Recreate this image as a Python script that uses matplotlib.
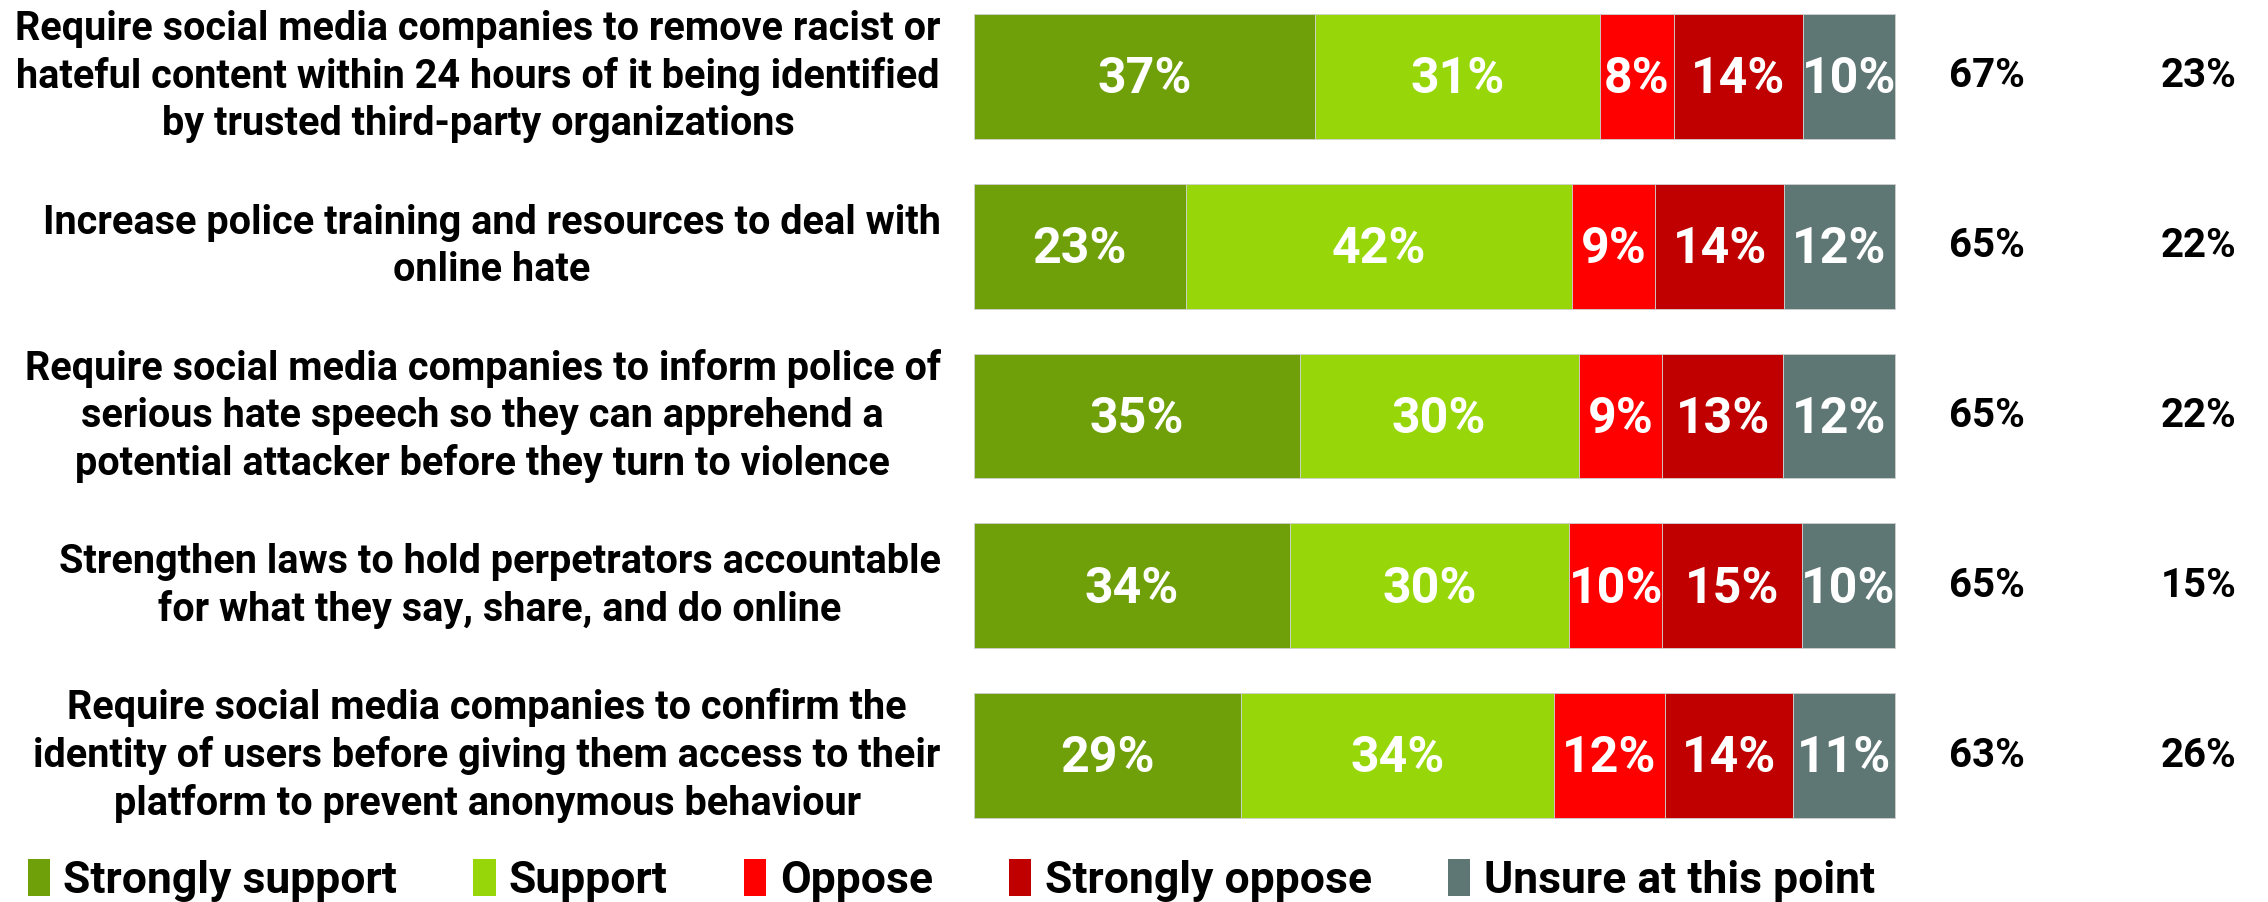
import numpy as np
import matplotlib
matplotlib.use("Agg")
from matplotlib import pyplot as plt
from matplotlib.patches import Patch

questions = [
    "Require social media companies to remove racist or\nhateful content within 24 hours of it being identified\nby trusted third-party organizations",
    "Increase police training and resources to deal with\nonline hate",
    "Require social media companies to inform police of\nserious hate speech so they can apprehend a\npotential attacker before they turn to violence",
    "Strengthen laws to hold perpetrators accountable\nfor what they say, share, and do online",
    "Require social media companies to confirm the\nidentity of users before giving them access to their\nplatform to prevent anonymous behaviour",
]
strongly_support = [37, 23, 35, 34, 29]
support = [31, 42, 30, 30, 34]
oppose = [8, 9, 9, 10, 12]
strongly_oppose = [14, 14, 13, 15, 14]
unsure = [10, 12, 12, 10, 11]
total_support = [67, 65, 65, 65, 63]
total_oppose = [23, 22, 22, 15, 26]

series_names = ["Strongly support", "Support", "Oppose", "Strongly oppose", "Unsure at this point"]
colors = ["#6fa00a", "#97d70a", "#ff0000", "#c00000", "#5f7774"]

font = ["Roboto", "DejaVu Sans"]

W, H = 2268, 902
fig = plt.figure(figsize=(W / 100, H / 100), dpi=100)
ax = fig.add_axes([974 / W, (H - 832) / H, 1289 / W, 832 / H])

data = np.array([strongly_support, support, oppose, strongly_oppose, unsure], dtype=float)
shares = data / data.sum(axis=0) * 100  # 100% stacked
y = np.arange(len(questions))
left = np.zeros(len(questions))
for k in range(len(series_names)):
    ax.barh(y, shares[k], left=left, height=0.735, color=colors[k],
            edgecolor="#d0d0d0", linewidth=0.6)
    for i in range(len(questions)):
        ax.text(left[i] + shares[k][i] / 2, y[i] + 0.02, f"{int(data[k][i])}%",
                ha="center", va="center", color="white", fontsize=36,
                fontweight="bold", family=font)
    left += shares[k]

for i in range(len(questions)):
    ax.text(-3.6, y[i], questions[i], ha="right", va="center", multialignment="center",
            fontsize=28.5, fontweight="bold", family=font, linespacing=1.3)
    ax.text(110, y[i], f"{total_support[i]}%", ha="center", va="center",
            fontsize=29, fontweight="bold", family=font)
    ax.text(133, y[i], f"{total_oppose[i]}%", ha="center", va="center",
            fontsize=29, fontweight="bold", family=font)

ax.set_xlim(0, 140)
ax.set_ylim(4.45, -0.45)
ax.axis("off")

handles = [Patch(facecolor=c, edgecolor="none") for c in colors]
fig.legend(handles, series_names, loc="center left", bbox_to_anchor=(-0.0055, 0.024),
           ncol=5, frameon=False, handlelength=0.5, handleheight=0.9,
           handletextpad=0.3, columnspacing=1.72,
           prop={"family": font, "weight": "bold", "size": 32})

fig.savefig("out.png", dpi=100, facecolor="white")
